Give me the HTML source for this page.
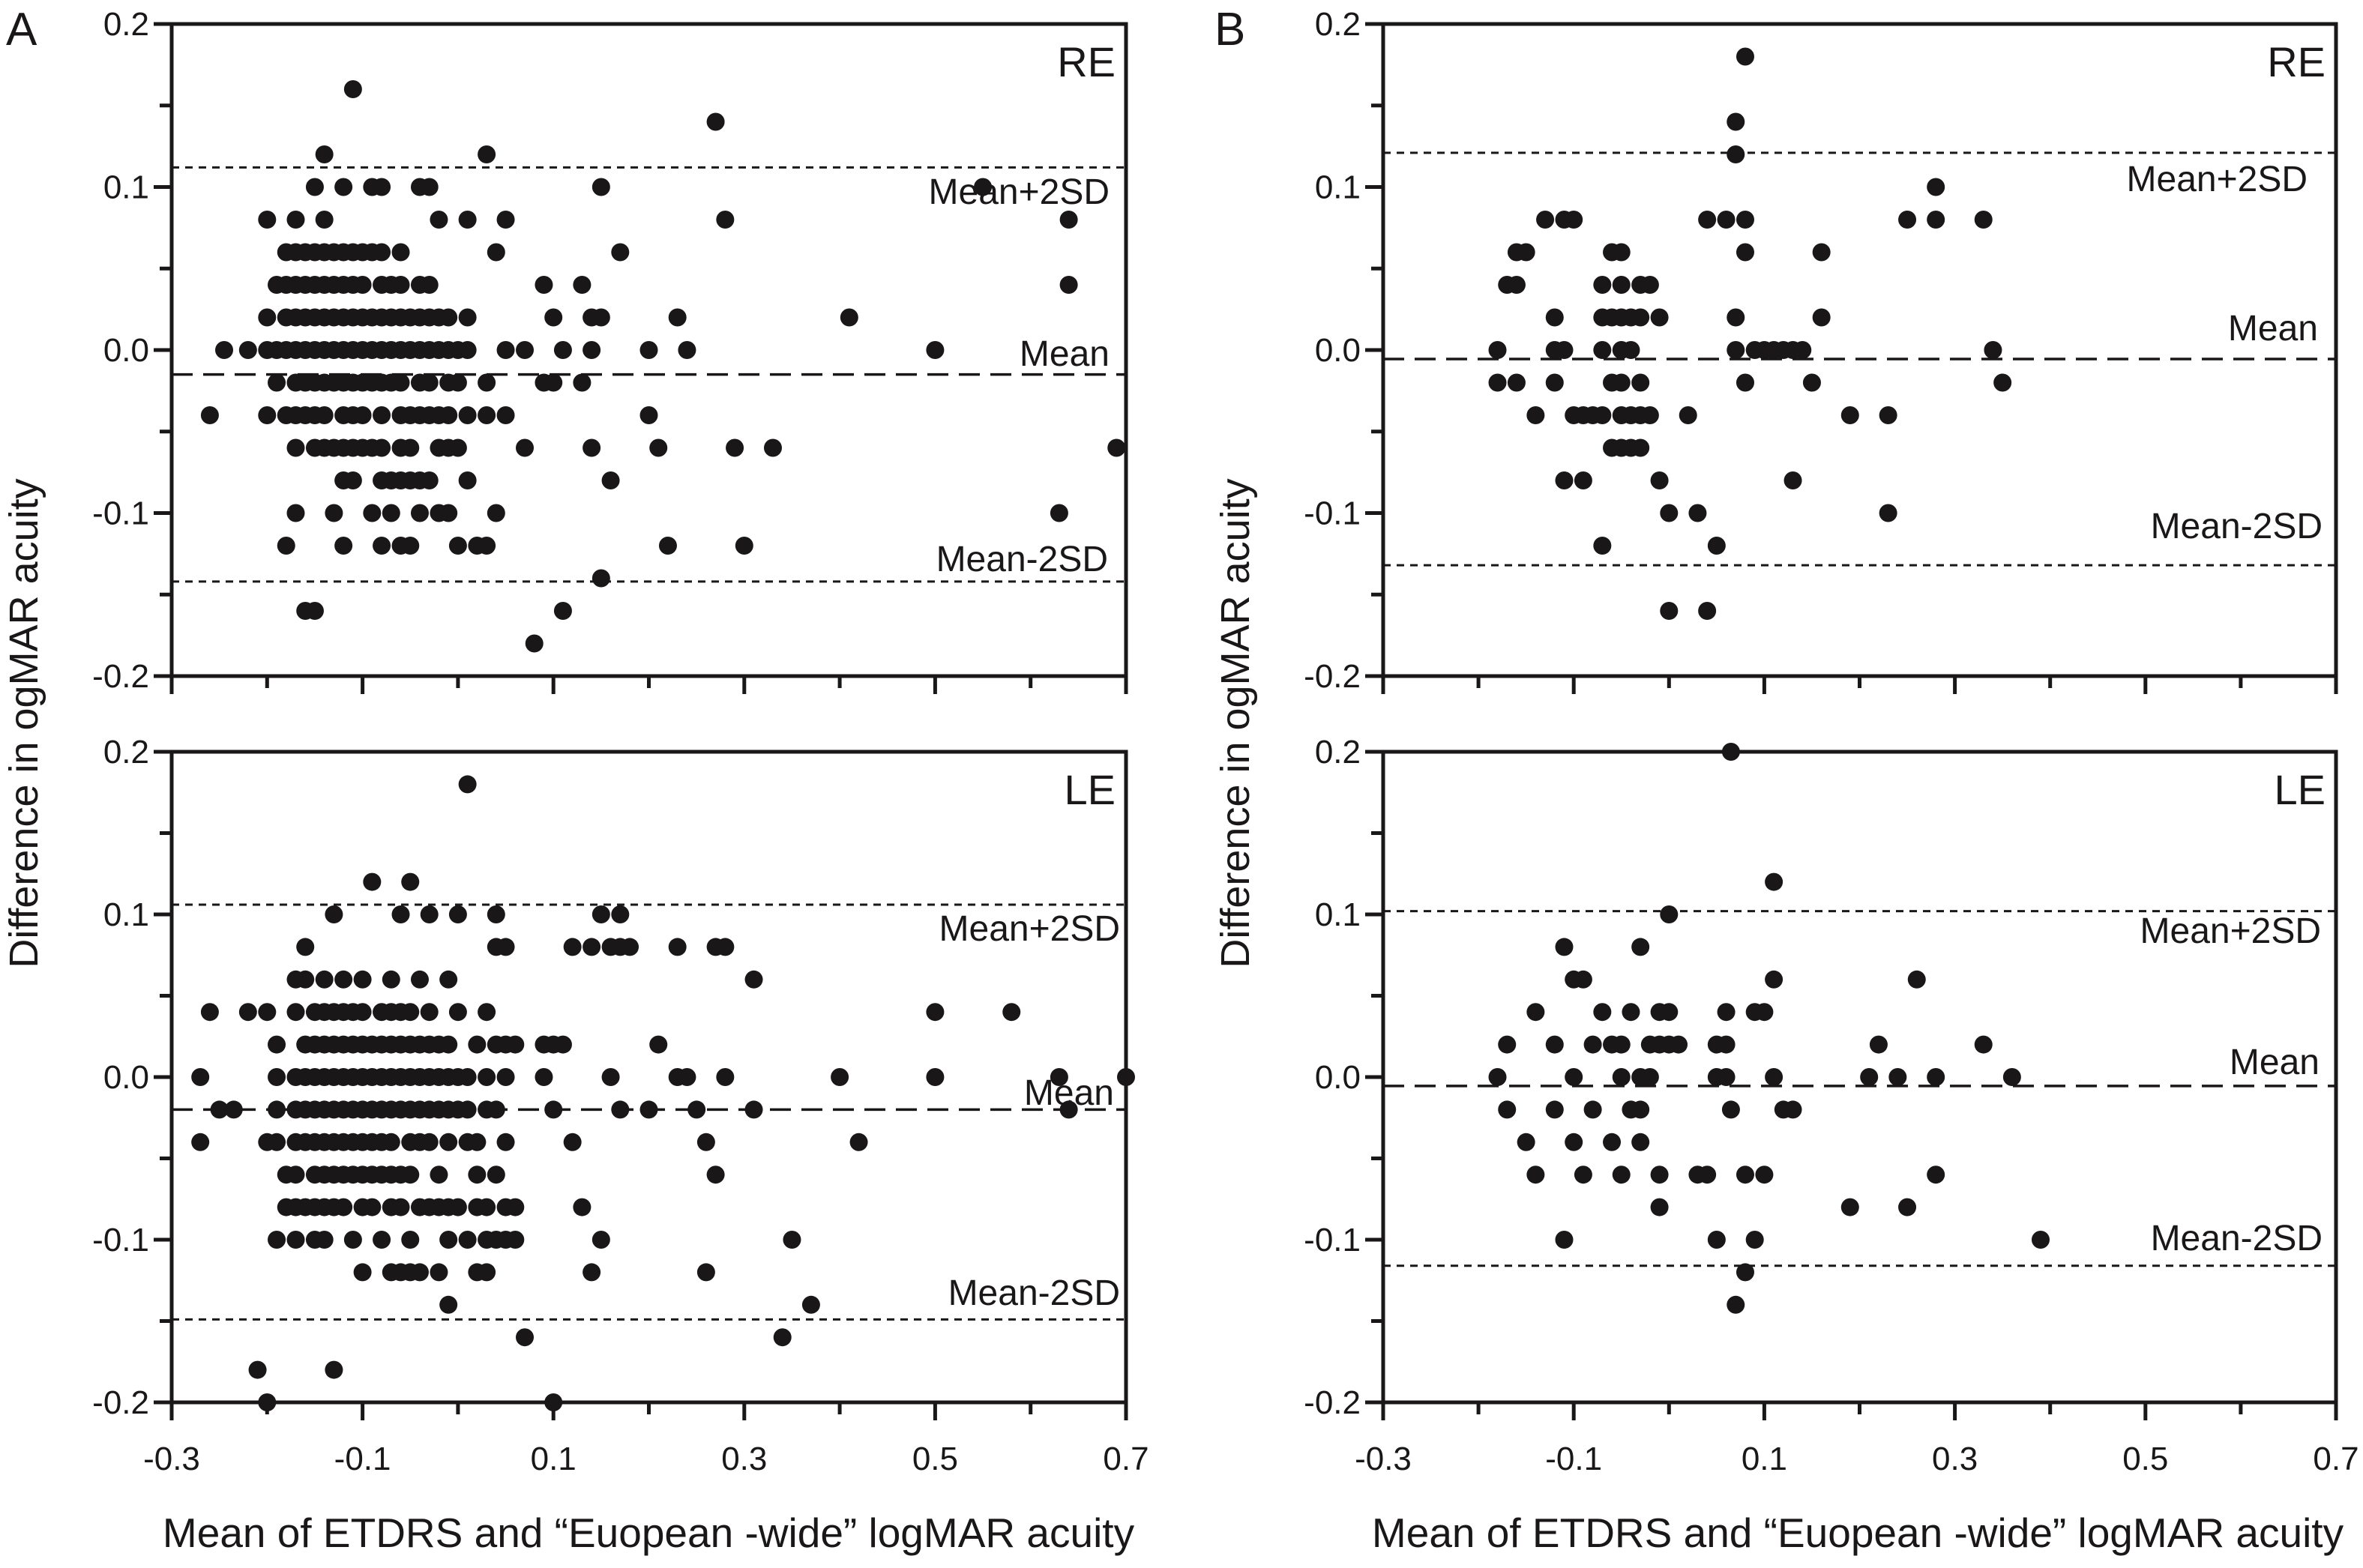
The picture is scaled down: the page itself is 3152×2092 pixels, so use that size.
<!DOCTYPE html>
<html><head><meta charset="utf-8"><style>
html,body{margin:0;padding:0;background:#fff}
svg{display:block}
text{font-family:"Liberation Sans",Arial,sans-serif;fill:#1a1718}
</style></head><body>
<svg id="chart" xmlns="http://www.w3.org/2000/svg" width="3152" height="2092" viewBox="0 0 3152 2092">
<text x="8" y="60" font-size="62">A</text>
<text x="1620" y="60" font-size="62">B</text>
<text transform="translate(50,965) rotate(-90)" text-anchor="middle" font-size="54">Difference in ogMAR acuity</text>
<text transform="translate(1666,965) rotate(-90)" text-anchor="middle" font-size="54">Difference in ogMAR acuity</text>
<text x="865" y="2064" text-anchor="middle" font-size="55">Mean of ETDRS and “Euopean -wide” logMAR acuity</text>
<text x="2478" y="2064" text-anchor="middle" font-size="55">Mean of ETDRS and “Euopean -wide” logMAR acuity</text>
</svg>
<script>
// ---- data (columns: x value, list of y differences) ----
const aReCols = [
[-0.26,[-0.04]],[-0.245,[0]],[-0.22,[0]],[-0.2,[0.08,0.02,0,-0.04]],[-0.19,[0.04,0,-0.02]],
[-0.18,[0.06,0.04,0.02,0,-0.04,-0.12]],[-0.17,[0.08,0.06,0.04,0.02,0,-0.02,-0.04,-0.06,-0.1]],
[-0.16,[0.06,0.04,0.02,0,-0.02,-0.04,-0.16]],[-0.15,[0.1,0.06,0.04,0.02,0,-0.02,-0.04,-0.06,-0.16]],
[-0.14,[0.12,0.08,0.06,0.04,0.02,0,-0.02,-0.04,-0.06]],[-0.13,[0.06,0.04,0.02,0,-0.02,-0.06,-0.1]],
[-0.12,[0.1,0.06,0.04,0.02,0,-0.02,-0.04,-0.06,-0.08,-0.12]],[-0.11,[0.16,0.06,0.04,0.02,0,-0.02,-0.04,-0.06,-0.08]],
[-0.1,[0.06,0.04,0.02,0,-0.02,-0.04,-0.06]],[-0.09,[0.1,0.06,0.02,0,-0.02,-0.06,-0.1]],
[-0.08,[0.1,0.06,0.04,0.02,0,-0.02,-0.04,-0.06,-0.08,-0.12]],[-0.07,[0.04,0.02,0,-0.02,-0.08,-0.1]],
[-0.06,[0.06,0.04,0.02,0,-0.02,-0.04,-0.06,-0.08,-0.12]],[-0.05,[0.02,0,-0.04,-0.06,-0.08,-0.12]],
[-0.04,[0.1,0.04,0.02,0,-0.02,-0.04,-0.08,-0.1]],[-0.03,[0.1,0.04,0.02,0,-0.02,-0.04,-0.08]],
[-0.02,[0.08,0.02,0,-0.04,-0.06,-0.1]],[-0.01,[0.02,0,-0.02,-0.04,-0.06,-0.1]],[0,[0,-0.02,-0.06,-0.12]],
[0.01,[0.08,0.02,0,-0.04,-0.08]],[0.02,[-0.12]],[0.03,[0.12,-0.02,-0.04,-0.12]],[0.04,[0.06,-0.1]],
[0.05,[0.08,0,-0.04]],[0.07,[0,-0.06]],[0.08,[-0.18]],[0.09,[0.04,-0.02]],[0.1,[0.02,-0.02]],
[0.11,[-0.16,0]],[0.13,[0.04,-0.02]],[0.14,[0,0.02,-0.06]],[0.15,[0.1,-0.14,0.02]],[0.16,[-0.08]],
[0.17,[0.06]],[0.2,[0,-0.04]],[0.21,[-0.06]],[0.22,[-0.12]],[0.23,[0.02]],[0.24,[0]],[0.27,[0.14]],
[0.28,[0.08]],[0.29,[-0.06]],[0.3,[-0.12]],[0.33,[-0.06]],[0.41,[0.02]],[0.5,[0]],[0.55,[0.1]],
[0.63,[-0.1]],[0.64,[0.08,0.04]],[0.69,[-0.06]]];
const aLeCols = [
[-0.27,[0,-0.04]],[-0.26,[0.04]],[-0.25,[-0.02]],[-0.235,[-0.02]],[-0.22,[0.04]],[-0.21,[-0.18]],
[-0.2,[0.04,-0.04,-0.2]],[-0.19,[0.02,0,-0.02,-0.04,-0.1]],[-0.18,[-0.06,-0.08]],
[-0.17,[0.06,0.04,0,-0.02,-0.04,-0.06,-0.08,-0.1]],[-0.16,[0.08,0.06,0.02,0,-0.02,-0.04,-0.08]],
[-0.15,[0.04,0.02,0,-0.02,-0.04,-0.06,-0.08,-0.1]],[-0.14,[0.06,0.04,0.02,0,-0.02,-0.04,-0.06,-0.08,-0.1]],
[-0.13,[0.1,0.04,0.02,0,-0.02,-0.04,-0.06,-0.08,-0.18]],[-0.12,[0.06,0.04,0.02,0,-0.02,-0.04,-0.06,-0.08]],
[-0.11,[0.04,0.02,0,-0.02,-0.04,-0.06,-0.1]],[-0.1,[0.06,0.04,0.02,0,-0.02,-0.04,-0.06,-0.08,-0.12]],
[-0.09,[0.12,0.02,0,-0.02,-0.04,-0.06,-0.08]],[-0.08,[0.04,0.02,0,-0.02,-0.04,-0.06,-0.1]],
[-0.07,[0.06,0.04,0.02,0,-0.02,-0.04,-0.06,-0.08,-0.12]],[-0.06,[0.1,0.04,0.02,0,-0.02,-0.06,-0.08,-0.12]],
[-0.05,[0.12,0.04,0.02,0,-0.02,-0.04,-0.06,-0.1,-0.12]],[-0.04,[0.06,0.02,0,-0.02,-0.04,-0.08,-0.12]],
[-0.03,[0.1,0.04,0.02,0,-0.02,-0.04,-0.08]],[-0.02,[0.02,0,-0.02,-0.06,-0.08,-0.12]],
[-0.01,[0.06,0.02,0,-0.02,-0.04,-0.08,-0.1,-0.14]],[0,[0.1,0.04,0,-0.02,-0.08]],[0.01,[0.18,0,-0.02,-0.04,-0.1]],
[0.02,[0.02,-0.04,-0.06,-0.08,-0.12]],[0.03,[0.04,0,-0.02,-0.08,-0.1,-0.12]],[0.04,[0.1,0.08,0.02,-0.02,-0.06,-0.1]],
[0.05,[0.08,0.02,0,-0.04,-0.08,-0.1]],[0.06,[0.02,-0.08,-0.1]],[0.07,[-0.16]],[0.09,[0.02,0]],
[0.1,[0.02,-0.02,-0.2]],[0.11,[0.02]],[0.12,[0.08,-0.04]],[0.13,[-0.08]],[0.14,[0.08,-0.12]],
[0.15,[0.1,-0.1]],[0.16,[0.08,0]],[0.17,[0.1,0.08,-0.02]],[0.18,[0.08]],[0.2,[-0.02]],[0.21,[0.02]],
[0.23,[0.08,0]],[0.24,[0]],[0.25,[-0.02]],[0.26,[-0.04,-0.12]],[0.27,[0.08,-0.06]],[0.28,[0.08,0]],
[0.31,[0.06,-0.02]],[0.34,[-0.16]],[0.35,[-0.1]],[0.37,[-0.14]],[0.4,[0]],[0.42,[-0.04]],
[0.5,[0.04,0]],[0.58,[0.04]],[0.63,[0]],[0.64,[-0.02]],[0.7,[0]]];
const bReCols = [
[-0.18,[0,-0.02]],[-0.17,[0.04]],[-0.16,[0.06,0.04,-0.02]],[-0.15,[0.06]],[-0.14,[-0.04]],[-0.13,[0.08]],
[-0.12,[0.02,0,-0.02]],[-0.11,[0.08,0,-0.08]],[-0.1,[0.08,-0.04]],[-0.09,[-0.04,-0.08]],[-0.08,[-0.04]],
[-0.07,[0.04,0.02,0,-0.04,-0.12]],[-0.06,[0.06,0.02,-0.02,-0.06]],[-0.05,[0.06,0.04,0.02,0,-0.02,-0.04,-0.06]],
[-0.04,[0.02,0,-0.04,-0.06]],[-0.03,[0.04,0.02,-0.02,-0.04,-0.06]],[-0.02,[0.04,-0.04]],[-0.01,[0.02,-0.08]],
[0,[-0.1,-0.16]],[0.02,[-0.04]],[0.03,[-0.1]],[0.04,[0.08,-0.16]],[0.05,[-0.12]],[0.06,[0.08]],
[0.07,[0.14,0.12,0.02,0]],[0.08,[0.18,0.08,0.06,-0.02]],[0.09,[0]],[0.1,[0]],[0.11,[0]],[0.12,[0]],
[0.13,[0,-0.08]],[0.14,[0]],[0.15,[-0.02]],[0.16,[0.06,0.02]],[0.19,[-0.04]],[0.23,[-0.04,-0.1]],
[0.25,[0.08]],[0.28,[0.1,0.08]],[0.33,[0.08]],[0.34,[0]],[0.35,[-0.02]]];
const bLeCols = [
[-0.18,[0]],[-0.17,[0.02,-0.02]],[-0.15,[-0.04]],[-0.14,[0.04,-0.06]],[-0.12,[0.02,-0.02]],[-0.11,[0.08,-0.1]],
[-0.1,[0.06,0,-0.04]],[-0.09,[0.06,-0.06]],[-0.08,[0.02,-0.02]],[-0.07,[0.04]],[-0.06,[0.02,-0.04]],
[-0.05,[0.02,0,-0.06]],[-0.04,[0.04,-0.02]],[-0.03,[0.08,0,-0.02,-0.04]],[-0.02,[0.02,0]],
[-0.01,[0.02,0.04,-0.08,-0.06]],[0,[0.02,0.04,0.1]],[0.01,[0.02]],[0.03,[-0.06]],[0.04,[-0.06]],
[0.05,[0.02,0,-0.1]],[0.06,[0.04,0.02,0]],[0.065,[0.2,-0.02]],[0.07,[-0.14]],[0.08,[-0.06,-0.12]],
[0.09,[0.04,-0.1]],[0.1,[0.04,-0.06]],[0.11,[0.12,0.06,0]],[0.12,[-0.02]],[0.13,[-0.02]],[0.19,[-0.08]],
[0.21,[0]],[0.22,[0.02]],[0.24,[0]],[0.25,[-0.08]],[0.26,[0.06]],[0.28,[0,-0.06]],[0.33,[0.02]],
[0.36,[0]],[0.39,[-0.1]]];
const aReLines = [0.112, -0.015, -0.142];
const aLeLines = [0.106, -0.02, -0.149];
const bReLines = [0.121, -0.0055, -0.132];
const bLeLines = [0.102, -0.0055, -0.116];
const xTickLabels = ["-0.3","-0.1","0.1","0.3","0.5","0.7"];
const xTickValues = [-0.3,-0.1,0.1,0.3,0.5,0.7];
const yTickLabels = ["0.2","0.1","0.0","-0.1","-0.2"];
const yTickValues = [0.2,0.1,0,-0.1,-0.2];

const NS = "http://www.w3.org/2000/svg";
const svg = document.getElementById('chart');
function mk(tag, attrs, parent){
  const e = document.createElementNS(NS, tag);
  for (const k in attrs) e.setAttribute(k, attrs[k]);
  (parent||svg).appendChild(e); return e;
}

function panel(name, L, R, T, B, cols, lines, tag, labelPos, showX){
  const g = mk('g', {});
  
  
  const sx = v => L + (v + 0.3) / 1.0 * (R - L);
  const sy = v => T + (0.2 - v) / 0.4 * (B - T);
  const frame = mk('rect', {x:L, y:T, width:R-L, height:B-T, fill:'none', stroke:'#1a1718', 'stroke-width':5}, g);
  
  
  for (let i = 0; i <= 10; i++){
    const v = -0.3 + i*0.1, major = (i % 2 === 0);
    const t = mk('line', {x1:sx(v), x2:sx(v), y1:B, y2:B + (major?24:16), stroke:'#1a1718','stroke-width':5}, g);
    
    
  }
  if (showX) xTickValues.forEach((v,i)=>{
    const t = mk('text', {x:sx(v), y:B+90, 'text-anchor':'middle','font-size':44}, g);
    t.textContent = xTickLabels[i];
    
    
  });
  for (let i = 0; i <= 8; i++){
    const v = 0.2 - i*0.05, major = (i % 2 === 0);
    const t = mk('line', {x1:L-(major?24:16), x2:L, y1:sy(v), y2:sy(v), stroke:'#1a1718','stroke-width':5}, g);
    
    
  }
  yTickValues.forEach((v,i)=>{
    const t = mk('text', {x:L-30, y:sy(v)+15, 'text-anchor':'end','font-size':44}, g);
    t.textContent = yTickLabels[i];
    
    
  });
  const styles = [['10,8',3],['28,14',3.5],['10,8',3]];
  const names = ['upper-limit-line','mean-line','lower-limit-line'];
  lines.forEach((v,i)=>{
    const l = mk('line', {x1:L, x2:R, y1:sy(v), y2:sy(v), stroke:'#1a1718','stroke-width':styles[i][1],'stroke-dasharray':styles[i][0]}, g);
    
    
  });
  const lbl = mk('text', {x:R-14, y:T+70, 'text-anchor':'end','font-size':56}, g);
  lbl.textContent = tag;
  
  
  const txts = ['Mean+2SD','Mean','Mean-2SD'];
  txts.forEach((s,i)=>{
    const t = mk('text', {x:labelPos[i][0], y:labelPos[i][1], 'text-anchor':'end','font-size':48}, g);
    t.textContent = s;
    
    
  });
  cols.forEach(c=>{
    c[1].forEach(y=>{
      const p = mk('circle', {cx:sx(c[0]), cy:sy(y), r:12, fill:'#1a1718'}, g);
      
      
    });
  });
}
panel('panel-a-re', 229, 1502, 32, 902, aReCols, aReLines, 'RE', [[1480,272],[1480,488],[1478,762]], false);
panel('panel-a-le', 229, 1502, 1003, 1871, aLeCols, aLeLines, 'LE', [[1494,1255],[1486,1474],[1494,1741]], true);
panel('panel-b-re', 1845, 3116, 32, 902, bReCols, bReLines, 'RE', [[3078,255],[3092,454],[3098,718]], false);
panel('panel-b-le', 1845, 3116, 1003, 1871, bLeCols, bLeLines, 'LE', [[3096,1258],[3094,1433],[3098,1668]], true);
</script>
</body></html>
